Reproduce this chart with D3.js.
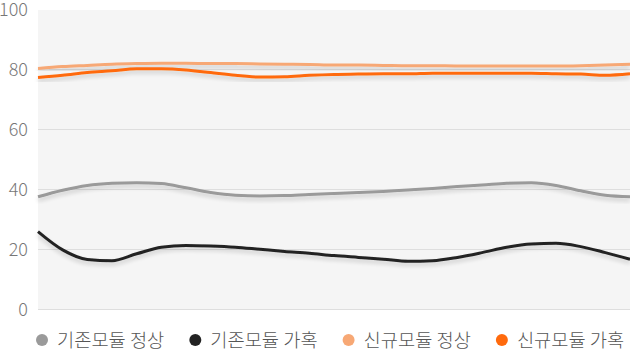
<!DOCTYPE html>
<html><head><meta charset="utf-8">
<script src="https://cdn.jsdelivr.net/npm/d3@7"></script>
<style>
html,body{margin:0;padding:0;background:#fff;}
text{font-family:"Noto Sans CJK KR","Noto Sans",sans-serif;}
</style></head>
<body>
<svg id="c" width="630" height="351"></svg>
<script>
const hours = d3.range(0, 25);
const seriesNames = ["기존모듈 정상", "기존모듈 가혹", "신규모듈 정상", "신규모듈 가혹"];
const seriesColors = ["#9a9a9a", "#222222", "#f7a875", "#ff6a0d"];
const existingNormal = [37.4,39.6,41.2,41.9,42.1,41.8,40.4,38.8,37.9,37.7,37.8,38.2,38.5,38.8,39.2,39.7,40.2,40.8,41.3,41.9,42.1,41.2,39.4,37.9,37.4];
const existingHarsh = [25.8,19.7,16.5,16.1,18.4,20.6,21.2,21.0,20.6,19.9,19.2,18.6,17.8,17.2,16.6,15.9,16.1,17.2,18.8,20.6,21.7,21.9,20.8,18.8,16.6];
const newNormal = [80.2,80.8,81.2,81.6,81.8,81.9,81.9,81.8,81.8,81.7,81.6,81.5,81.3,81.3,81.2,81.1,81.1,81.0,81.0,81.0,81.0,81.0,81.1,81.3,81.6];
const newHarsh = [77.2,77.9,78.8,79.4,80.1,80.1,79.7,78.8,77.9,77.3,77.4,77.9,78.2,78.3,78.4,78.4,78.6,78.6,78.6,78.6,78.6,78.4,78.3,77.9,78.4];
const yTicks = [0, 20, 40, 60, 80, 100];
const allSeries = [existingNormal, existingHarsh, newNormal, newHarsh];

const svg = d3.select("#c");
const mLeft = 38, mRight = 630, mTop = 9, mBottom = 309;
const x = d3.scaleLinear().domain([0, 24]).range([mLeft, mRight]);
const y = d3.scaleLinear().domain([0, 100]).range([mBottom, mTop]);

const defs = svg.append("defs");
const f = defs.append("filter").attr("id","sh").attr("x","-5%").attr("y","-50%").attr("width","110%").attr("height","200%");
f.append("feGaussianBlur").attr("in","SourceAlpha").attr("stdDeviation",2).attr("result","b");
f.append("feOffset").attr("in","b").attr("dy",3).attr("result","o");
f.append("feComponentTransfer").attr("in","o").attr("result","o2").append("feFuncA").attr("type","linear").attr("slope",0.18);
const mg = f.append("feMerge"); mg.append("feMergeNode").attr("in","o2"); mg.append("feMergeNode").attr("in","SourceGraphic");

svg.append("rect").attr("x", mLeft).attr("y", y(100)+1).attr("width", mRight-mLeft).attr("height", y(0)-y(100)-1).attr("fill", "#f5f5f5");

svg.append("g").selectAll("line").data(yTicks.filter(t=>t<100)).join("line")
  .attr("x1", mLeft).attr("x2", mRight).attr("y1", d=>y(d)+0.5).attr("y2", d=>y(d)+0.5)
  .attr("stroke", "#dedede").attr("stroke-width", 1);

svg.append("g").selectAll("text").data(yTicks).join("text")
  .attr("x", 28).attr("y", d=>y(d)+7).attr("text-anchor","end")
  .attr("font-size", 18).attr("font-weight", 300).attr("fill", "#777").text(d=>d);

const line = d3.line().x((d,i)=>x(hours[i])).y(d=>y(d)).curve(d3.curveMonotoneX);
svg.append("g").selectAll("path").data(allSeries).join("path")
  .attr("d", line).attr("fill","none").attr("stroke",(d,i)=>seriesColors[i])
  .attr("stroke-width",3).attr("filter","url(#sh)");

const lg = svg.append("g");
let cx = 42;
seriesNames.forEach((n,i)=>{
  lg.append("circle").attr("cx", cx).attr("cy", 340).attr("r", 6).attr("fill", seriesColors[i]);
  const t = lg.append("text").attr("x", cx+15).attr("y", 347).attr("font-size", 18.7).attr("font-weight",300).attr("fill","#555").text(n);
  const w = t.node().getComputedTextLength();
  cx = cx + 15 + w + 31;
});
</script>
</body></html>
